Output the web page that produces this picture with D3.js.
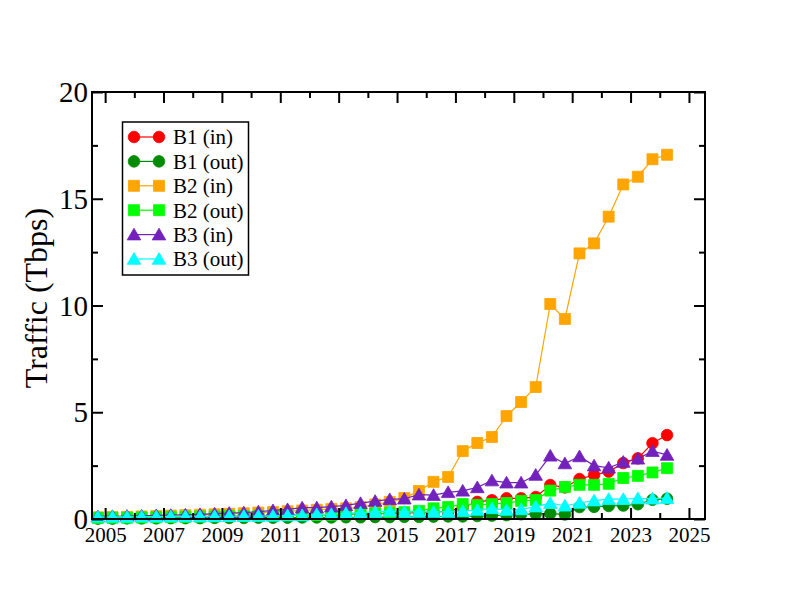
<!DOCTYPE html>
<html>
<head>
<meta charset="utf-8">
<script src="https://cdn.jsdelivr.net/npm/d3@7"></script>
<style>
  html, body { margin: 0; padding: 0; background: #fff; }
  svg { display: block; }
  text { font-family: "Liberation Serif", "Times New Roman", serif; fill: #000; }
</style>
</head>
<body>
<svg id="chart" width="792" height="612"></svg>
<script>
const years = [2004.75,2005.25,2005.75,2006.25,2006.75,2007.25,2007.75,2008.25,2008.75,2009.25,
  2009.75,2010.25,2010.75,2011.25,2011.75,2012.25,2012.75,2013.25,2013.75,2014.25,
  2014.75,2015.25,2015.75,2016.25,2016.75,2017.25,2017.75,2018.25,2018.75,2019.25,
  2019.75,2020.25,2020.75,2021.25,2021.75,2022.25,2022.75,2023.25,2023.75,2024.25];

const b1In = [0.04,0.05,0.06,0.07,0.08,0.09,0.10,0.11,0.12,0.13,0.14,0.15,0.16,
  0.17,0.18,0.19,0.20,0.21,0.22,0.24,0.26,0.28,0.30,0.33,0.36,
  0.55,0.80,0.88,0.97,0.97,1.03,
  1.59,1.48,1.87,2.06,2.22,2.62,2.84,3.55,3.93];
const b1Out = [0.02,0.02,0.03,0.03,0.03,0.04,0.04,0.04,0.05,0.05,0.05,0.06,0.06,
  0.06,0.07,0.07,0.07,0.08,0.08,0.09,0.09,0.10,0.10,0.11,0.12,
  0.12,0.14,0.16,0.18,0.22,0.24,
  0.26,0.21,0.56,0.57,0.61,0.63,0.69,0.90,0.95];
const b2In = [0.08,0.09,0.10,0.12,0.14,0.16,0.18,0.20,0.22,0.24,0.27,0.30,0.33,
  0.36,0.40,0.43,0.47,0.50,0.55,0.68,0.80,0.98,1.31,1.74,1.97,
  3.18,3.56,3.84,4.82,5.48,6.18,
  10.07,9.37,12.44,12.91,14.16,15.67,16.03,16.85,17.06];
const b2Out = [0.05,0.06,0.06,0.07,0.08,0.09,0.10,0.11,0.12,0.13,0.14,0.15,0.16,
  0.17,0.18,0.19,0.20,0.22,0.24,0.26,0.28,0.32,0.38,0.50,0.56,
  0.70,0.66,0.70,0.75,0.85,0.89,
  1.33,1.50,1.60,1.60,1.65,1.92,2.02,2.18,2.38];
const b3In = [0.12,0.13,0.14,0.15,0.17,0.18,0.20,0.22,0.25,0.28,0.30,0.34,0.40,
  0.45,0.53,0.53,0.58,0.64,0.74,0.84,0.92,0.95,1.14,1.12,1.25,
  1.32,1.48,1.80,1.70,1.70,2.06,
  2.96,2.60,2.93,2.50,2.40,2.67,2.82,3.18,3.00];
const b3Out = [0.10,0.10,0.10,0.11,0.11,0.12,0.12,0.12,0.13,0.13,0.14,0.14,0.15,
  0.17,0.17,0.22,0.22,0.27,0.30,0.33,0.37,0.33,0.33,0.33,0.33,
  0.37,0.42,0.50,0.42,0.45,0.58,
  0.74,0.62,0.75,0.86,0.93,0.93,0.96,0.95,0.98];

const seriesNames = ["B1 (in)","B1 (out)","B2 (in)","B2 (out)","B3 (in)","B3 (out)"];
const seriesValues = [b1In, b1Out, b2In, b2Out, b3In, b3Out];
const seriesColors = ["#ff0000","#008b00","#ffa500","#00ff00","#7221bc","#00ffff"];
const seriesShapes = ["circle","circle","square","square","triangle","triangle"];

const xMajorTicks = [2005,2007,2009,2011,2013,2015,2017,2019,2021,2023,2025];
const xMinorTicks = [2006,2008,2010,2012,2014,2016,2018,2020,2022,2024];
const yMajorTicks = [0,5,10,15,20];
const yMinorTicks = [2.5,7.5,12.5,17.5];
const yTitle = "Traffic (Tbps)";

const L = 92, R = 705, T = 92, B = 519;
const x = d3.scaleLinear().domain([2004.55, 2025.55]).range([L, R]);
const y = d3.scaleLinear().domain([0, 20]).range([B, T]);

const svg = d3.select("#chart");

function markerPath(shape) {
  if (shape === "circle") return "M5.8,0A5.8,5.8 0 1,1 -5.8,0A5.8,5.8 0 1,1 5.8,0Z";
  if (shape === "square") return "M-5.5,-5.5H5.5V5.5H-5.5Z";
  return "M0,-6.4L6.8,5.3L-6.8,5.3Z";
}

// series
const line = d3.line().x(d => x(d[0])).y(d => y(d[1]));
seriesValues.forEach((vals, i) => {
  const pts = years.map((yr, j) => [yr, vals[j]]);
  const g = svg.append("g");
  g.append("path").attr("d", line(pts)).attr("fill", "none")
    .attr("stroke", seriesColors[i]).attr("stroke-width", 1.2);
  g.selectAll("path.m").data(pts).enter().append("path").attr("class", "m")
    .attr("d", markerPath(seriesShapes[i]))
    .attr("transform", d => `translate(${x(d[0])},${y(d[1])})`)
    .attr("fill", seriesColors[i])
    .attr("stroke", seriesColors[i]).attr("stroke-width", 0.8);
});

// axes (ticks inward on all sides)
const axisStyle = g => {
  g.select(".domain").remove();
  g.selectAll(".tick line").attr("stroke", "#000").attr("stroke-width", 2);
};
svg.append("g").attr("transform", `translate(0,${B})`)
  .call(d3.axisBottom(x).tickValues(xMajorTicks).tickFormat(d3.format("d")).tickSize(-11).tickPadding(20))
  .call(axisStyle)
  .call(g => g.selectAll(".tick text").attr("font-size", 21).attr("font-family", "Liberation Serif").attr("dy", "0.15em"));
svg.append("g").attr("transform", `translate(0,${B})`)
  .call(d3.axisBottom(x).tickValues(xMinorTicks).tickFormat("").tickSize(-6)).call(axisStyle);
svg.append("g").attr("transform", `translate(0,${T})`)
  .call(d3.axisTop(x).tickValues(xMajorTicks).tickFormat("").tickSize(-11)).call(axisStyle);
svg.append("g").attr("transform", `translate(0,${T})`)
  .call(d3.axisTop(x).tickValues(xMinorTicks).tickFormat("").tickSize(-6)).call(axisStyle);

svg.append("g").attr("transform", `translate(${L},0)`)
  .call(d3.axisLeft(y).tickValues(yMajorTicks).tickFormat(d3.format("d")).tickSize(-11).tickPadding(4))
  .call(axisStyle)
  .call(g => g.selectAll(".tick text").attr("font-size", 29).attr("font-family", "Liberation Serif").attr("dy", "0.33em"));
svg.append("g").attr("transform", `translate(${L},0)`)
  .call(d3.axisLeft(y).tickValues(yMinorTicks).tickFormat("").tickSize(-6)).call(axisStyle);
svg.append("g").attr("transform", `translate(${R},0)`)
  .call(d3.axisRight(y).tickValues(yMajorTicks).tickFormat("").tickSize(-11)).call(axisStyle);
svg.append("g").attr("transform", `translate(${R},0)`)
  .call(d3.axisRight(y).tickValues(yMinorTicks).tickFormat("").tickSize(-6)).call(axisStyle);

// frame
svg.append("rect").attr("x", L).attr("y", T).attr("width", R - L).attr("height", B - T)
  .attr("fill", "none").attr("stroke", "#000").attr("stroke-width", 2);

// y title
svg.append("text").attr("transform", `translate(47,298) rotate(-90)`)
  .attr("text-anchor", "middle").attr("font-size", 32).text(yTitle);

// legend
const lg = svg.append("g");
lg.append("rect").attr("x", 122.5).attr("y", 122).attr("width", 126).attr("height", 153)
  .attr("fill", "#fff").attr("stroke", "#000").attr("stroke-width", 1.5);
seriesNames.forEach((name, i) => {
  const cy = 137 + i * 24.4;
  lg.append("line").attr("x1", 134).attr("x2", 159).attr("y1", cy).attr("y2", cy)
    .attr("stroke", seriesColors[i]).attr("stroke-width", 1.2);
  [134, 159].forEach(cx => lg.append("path").attr("d", markerPath(seriesShapes[i]))
    .attr("transform", `translate(${cx},${cy})`).attr("fill", seriesColors[i])
    .attr("stroke", seriesColors[i]).attr("stroke-width", 0.8));
  lg.append("text").attr("x", 173).attr("y", cy).attr("dy", "0.35em")
    .attr("font-size", 21).text(name);
});
</script>
</body>
</html>
